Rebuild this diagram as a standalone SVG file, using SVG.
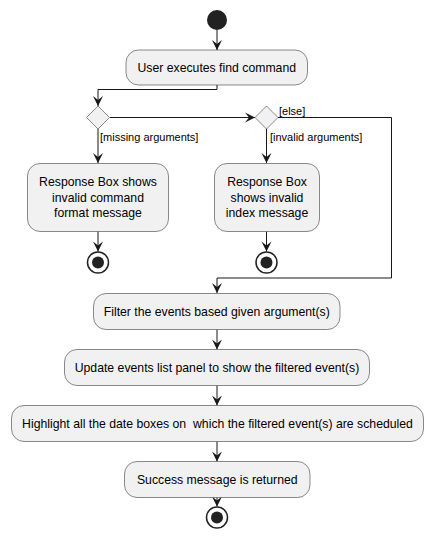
<svg xmlns="http://www.w3.org/2000/svg" width="433" height="549" viewBox="0 0 433 549">
<style>
.box{fill:#F1F1F1;stroke:#181818;stroke-width:0.5}
.t{font-family:"Liberation Sans",Arial,sans-serif;font-size:12.25px;fill:#000;text-anchor:middle}
.lbl{font-family:"Liberation Sans",Arial,sans-serif;font-size:11px;fill:#000}
.c{fill:none;stroke:#181818;stroke-width:1}
.start{fill:#222222}
.endo{fill:none;stroke:#222222;stroke-width:1.5}
.endi{fill:#222222}
</style>
<defs>
<marker id="ah" markerUnits="userSpaceOnUse" markerWidth="10" markerHeight="10" refX="10" refY="5" orient="auto" overflow="visible">
<path d="M0,0 L10,5 L0,10 L4,5 Z" fill="#181818"/>
</marker>
</defs>
<rect width="433" height="549" fill="#FFFFFF"/>
<g id="connectors">
<path class="c" d="M217,30 V50" marker-end="url(#ah)"/>
<path class="c" d="M217,85 V89.5 H98 V106" marker-end="url(#ah)"/>
<path class="c" d="M110,117.5 H255" marker-end="url(#ah)"/>
<path class="c" d="M98,129 V163" marker-end="url(#ah)"/>
<path class="c" d="M266.5,129 V163" marker-end="url(#ah)"/>
<path class="c" d="M278,117.5 H391.5 V278 H217 V293" marker-end="url(#ah)"/>
<path class="c" d="M98,231.5 V251.5" marker-end="url(#ah)"/>
<path class="c" d="M266.5,231.5 V251.5" marker-end="url(#ah)"/>
<path class="c" d="M217,329.5 V349.5" marker-end="url(#ah)"/>
<path class="c" d="M217,385.5 V405.5" marker-end="url(#ah)"/>
<path class="c" d="M217,441.5 V461.5" marker-end="url(#ah)"/>
<path class="c" d="M217,497.5 V506.5" marker-end="url(#ah)"/>
<text class="lbl" x="100" y="141">[missing arguments]</text>
<text class="lbl" x="270" y="141">[invalid arguments]</text>
<text class="lbl" x="279" y="115">[else]</text>
</g>
<g id="start"><circle class="start" cx="217" cy="20" r="10"/></g>
<g id="userExecutes">
<rect class="box" x="126" y="50" width="181.5" height="35" rx="12.5"/>
<text class="t" x="216.75" y="72">User executes find command</text>
</g>
<g id="decision1"><polygon class="box" points="98,106 109.5,117.5 98,129 86.5,117.5"/></g>
<g id="decision2"><polygon class="box" points="266.5,106 278,117.5 266.5,129 255,117.5"/></g>
<g id="invalidFormat">
<rect class="box" x="27.5" y="163.5" width="141" height="68" rx="12.5"/>
<text class="t" x="98" y="186">Response Box shows</text>
<text class="t" x="98" y="201.5">invalid command</text>
<text class="t" x="98" y="217">format message</text>
</g>
<g id="invalidIndex">
<rect class="box" x="214.5" y="163.5" width="105" height="68" rx="12.5"/>
<text class="t" x="267" y="186">Response Box</text>
<text class="t" x="267" y="201.5">shows invalid</text>
<text class="t" x="267" y="217">index message</text>
</g>
<g id="end1"><circle class="endo" cx="98" cy="262.5" r="10.5"/><circle class="endi" cx="98" cy="262.5" r="6"/></g>
<g id="end2"><circle class="endo" cx="266.5" cy="262.5" r="10.5"/><circle class="endi" cx="266.5" cy="262.5" r="6"/></g>
<g id="filter">
<rect class="box" x="93.5" y="293.5" width="246.5" height="36" rx="12.5"/>
<text class="t" x="216.75" y="316">Filter the events based given argument(s)</text>
</g>
<g id="update">
<rect class="box" x="64.5" y="349.5" width="305" height="36" rx="12.5"/>
<text class="t" x="217" y="372">Update events list panel to show the filtered event(s)</text>
</g>
<g id="highlight">
<rect class="box" x="11.5" y="405.5" width="412" height="36" rx="12.5"/>
<text class="t" x="217.5" y="428" xml:space="preserve">Highlight all the date boxes on  which the filtered event(s) are scheduled</text>
</g>
<g id="success">
<rect class="box" x="124.5" y="461.5" width="185.5" height="36" rx="12.5"/>
<text class="t" x="217.25" y="484">Success message is returned</text>
</g>
<g id="end3"><circle class="endo" cx="217" cy="517.5" r="10.5"/><circle class="endi" cx="217" cy="517.5" r="6"/></g>
</svg>
